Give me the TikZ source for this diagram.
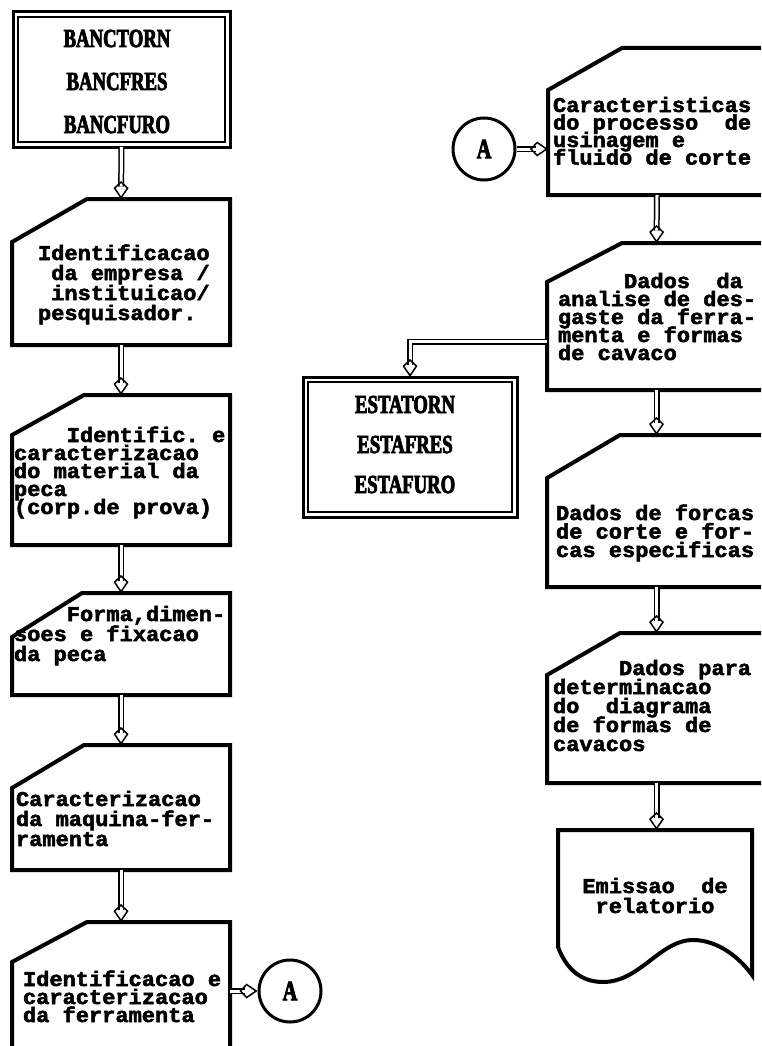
\documentclass[tikz,border=0pt]{standalone}
\usepackage{fontspec}
\usetikzlibrary{arrows.meta,calc}
\newfontfamily\monof{Liberation Mono}[FakeStretch=1.048, BoldFeatures={FakeBold=2.5}]
\newfontfamily\blockf{Liberation Serif}[FakeStretch=0.72, BoldFeatures={FakeBold=3}]
\newlength\cw \setlength\cw{13.2pt}
\newcommand\ind[1]{\hspace*{#1\cw}}
\newcommand\tightlines{\setlength\lineskiplimit{-40pt}}
\frenchspacing
\tikzset{
 frame/.style={line width=4pt, line join=miter, miter limit=10},
 hold/.style={draw=none, inner sep=0pt, outer sep=0pt, anchor=north west},
 txt/.style={inner sep=0pt, outer sep=0pt, anchor=north west, align=left, font=\monof\bfseries\fontsize{21}{#1}\selectfont\tightlines},
 txt/.default=18,
 ctxt/.style={inner sep=0pt, outer sep=0pt, anchor=north, align=center, font=\monof\bfseries\fontsize{21}{#1}\selectfont\tightlines},
 blk/.style={inner sep=0pt, outer sep=0pt, anchor=north, align=center, font=\blockf\bfseries\fontsize{26}{#1}\selectfont\tightlines},
 dbl/.style={line width=1.5pt, double distance=3pt, -{Kite[open, length=18pt, width=15pt, inset=7pt]}},
 conn/.style={circle, draw, line width=3pt, minimum size=62pt, inner sep=0pt, font=\blockf\bfseries\fontsize{28}{28}\selectfont}
}
\newcommand\cardshape[7]{%
 \node[hold, minimum width=#4pt, minimum height=#5pt] (#1) at (#2,#3) {};
 \draw[frame] ($(#1.north west)+(#6,0)$) -- (#1.north east) -- (#1.south east) -- (#1.south west) -- ($(#1.north west)+(0,#7)$) -- cycle;}
\newcommand\dblbox[1]{%
 \draw[line width=3pt] (#1.north west) rectangle (#1.south east);
 \draw[line width=1.6pt] ($(#1.north west)+(5,5)$) rectangle ($(#1.south east)+(-5,-5)$);}
\begin{document}
\begin{tikzpicture}[x=1pt,y=-1pt]
\useasboundingbox (0,0) rectangle (761,1046);
\clip (0,0) rectangle (761,1046);
% left column
\node[hold, minimum width=217pt, minimum height=135pt] (b0) at (13,12) {};
\dblbox{b0}
\node[blk=43] (t0) at (117,29) {\rule{0pt}{18pt}BANCTORN\\BANCFRES\\BANCFURO};
\cardshape{b1}{12}{199}{218}{146}{75}{43}
\cardshape{b2}{12}{395}{218}{150}{72}{40}
\cardshape{b3}{12}{593}{218}{102}{70}{44}
\cardshape{b4}{12}{745}{218}{125}{72}{43}
\cardshape{b5}{12}{922}{218}{150}{75}{40}
\node[txt=20] (t1) at (38,240) {\rule{0pt}{20pt}Identificacao\\\ind{1}da empresa /\\\ind{1}instituicao/\\pesquisador.};
\node[txt=18] (t2) at (14,422) {\rule{0pt}{20pt}\ind{4}Identific. e\\caracterizacao\\do material da\\peca\\(corp.de prova)};
\node[txt=20] (t3) at (14,601) {\rule{0pt}{20pt}\ind{4}Forma,dimen-\\soes e fixacao\\da peca};
\node[txt=20] (t4) at (16,786) {\rule{0pt}{20pt}Caracterizacao\\da maquina-fer-\\ramenta};
\node[txt=18] (t5) at (23,966) {\rule{0pt}{20pt}Identificacao e\\caracterizacao\\da ferramenta};
\node[conn] (a1) at (290,991) {A};
% right column
\node[conn] (a2) at (484,149) {A};
\cardshape{r1}{548}{48}{218}{147}{74}{42}
\cardshape{r2}{547}{243}{219}{147}{75}{39}
\cardshape{r3}{547}{435}{219}{152}{73}{43}
\cardshape{r4}{547}{633}{219}{150}{73}{42}
\node[hold, minimum width=194pt, minimum height=145pt] (r5) at (558,830) {};
\draw[frame] (r5.north west) -- (r5.north east) -- (r5.south east)
  .. controls (740,958) and (718,940) .. (693,940)
  .. controls (660,940) and (640,982) .. (603,982)
  .. controls (580,982) and (566,968) .. (558,947) -- cycle;
\node[txt=17.5] (t6) at (553,92) {\rule{0pt}{20pt}Caracteristicas\\do processo~~de\\usinagem e\\fluido de corte};
\node[txt=18] (t7) at (558,268) {\rule{0pt}{20pt}\ind{5}Dados~~da\\analise de des-\\gaste da ferra-\\menta e formas\\de cavaco};
\node[txt=18.5] (t8) at (556,500) {\rule{0pt}{20pt}Dados de forcas\\de corte e for-\\cas especificas};
\node[txt=19] (t9) at (553,655) {\rule{0pt}{20pt}\ind{5}Dados para\\determinacao\\do~~diagrama\\de formas de\\cavacos};
\node[ctxt=20] (t10) at (655,873) {\rule{0pt}{20pt}Emissao~~de\\relatorio};
\node[hold, minimum width=214pt, minimum height=140pt] (e0) at (303,377) {};
\dblbox{e0}
\node[blk=40] (t11) at (405,395) {\rule{0pt}{18pt}ESTATORN\\ESTAFRES\\ESTAFURO};
% connectors
\draw[dbl] (b0.south) -- (b1.north);
\draw[dbl] (b1.south) -- (b2.north);
\draw[dbl] (b2.south) -- (b3.north);
\draw[dbl] (b3.south) -- (b4.north);
\draw[dbl] (b4.south) -- (b5.north);
\draw[dbl] (a1 -| b5.east) -- (a1);
\draw[dbl] (a2) -- (a2 -| r1.west);
\draw[dbl] (r1.south) -- (r2.north);
\coordinate (br) at ($(r2.west)+(0,25)$);
\draw[dbl] (br) -| (e0.north);
\draw[dbl] (r2.south) -- (r3.north);
\draw[dbl] (r3.south) -- (r4.north);
\draw[dbl] (r4.south) -- (r4.south |- r5.north);
\end{tikzpicture}
\end{document}
